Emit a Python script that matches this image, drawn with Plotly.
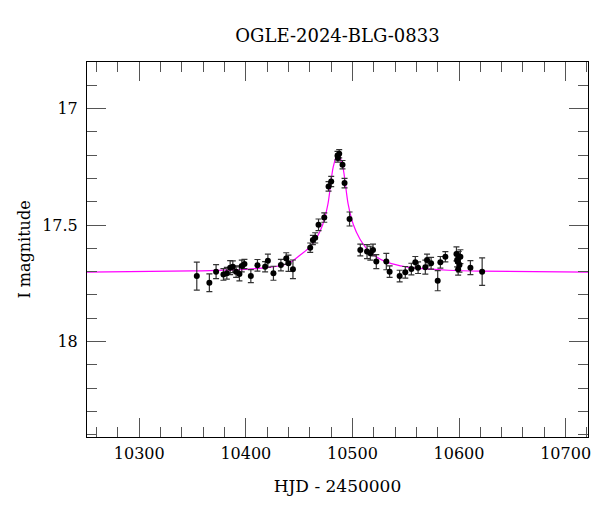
import plotly.graph_objects as go

# OGLE photometry
hjd = [10354.0, 10365.8, 10372.1, 10379.0, 10382.2, 10385.3, 10387.8, 10390.9, 10394.0, 10396.2,
       10398.7, 10404.7, 10410.9, 10418.1, 10420.7, 10425.9, 10432.9, 10437.9, 10440.0, 10444.2,
       10460.4, 10462.9, 10465.1, 10468.2, 10473.6, 10477.6, 10480.1, 10486.0, 10487.6, 10486.4,
       10490.7, 10492.6, 10497.3, 10507.4, 10513.7, 10516.8, 10519.3, 10522.4, 10531.8, 10534.9,
       10544.3, 10549.6, 10555.3, 10559.0, 10561.6, 10568.4, 10570.0, 10573.8, 10580.0, 10582.5,
       10587.2, 10597.6, 10599.7, 10601.3, 10598.8, 10600.4, 10599.2, 10598.2, 10610.7, 10621.7]
mag = [17.719, 17.748, 17.700, 17.712, 17.707, 17.683, 17.679, 17.700, 17.710, 17.676,
       17.667, 17.719, 17.673, 17.679, 17.653, 17.707, 17.672, 17.644, 17.664, 17.690,
       17.597, 17.564, 17.555, 17.499, 17.468, 17.334, 17.313, 17.202, 17.194, 17.212,
       17.241, 17.320, 17.474, 17.607, 17.614, 17.621, 17.607, 17.657, 17.657, 17.700,
       17.719, 17.703, 17.689, 17.660, 17.683, 17.681, 17.650, 17.664, 17.739, 17.660,
       17.636, 17.624, 17.638, 17.636, 17.657, 17.672, 17.690, 17.650, 17.683, 17.700]
err = [0.060, 0.038, 0.030, 0.025, 0.025, 0.030, 0.025, 0.025, 0.030, 0.025,
       0.020, 0.028, 0.025, 0.022, 0.028, 0.030, 0.025, 0.025, 0.035, 0.040,
       0.020, 0.020, 0.022, 0.025, 0.020, 0.020, 0.022, 0.018, 0.018, 0.018,
       0.018, 0.020, 0.030, 0.025, 0.030, 0.030, 0.025, 0.030, 0.035, 0.025,
       0.025, 0.025, 0.025, 0.025, 0.025, 0.030, 0.025, 0.025, 0.043, 0.025,
       0.022, 0.030, 0.025, 0.030, 0.035, 0.030, 0.025, 0.030, 0.030, 0.059]

# model light curve, sampled by eye from the magenta line
model_t = [10250, 10350, 10400, 10420, 10440, 10452, 10460, 10467, 10472, 10477, 10482, 10486.5,
           10491, 10496, 10501, 10507, 10514, 10522, 10530, 10545, 10560, 10590, 10620, 10722]
model_mag = [17.702, 17.697, 17.690, 17.683, 17.665, 17.625, 17.595, 17.550, 17.500, 17.410, 17.250, 17.190,
             17.250, 17.410, 17.500, 17.560, 17.605, 17.635, 17.655, 17.675, 17.685, 17.694, 17.698, 17.702]

font = "DejaVu Serif"

fig = go.Figure()
fig.add_trace(go.Scatter(
    x=model_t, y=model_mag, mode="lines",
    line=dict(color="#ff00ff", width=1.2, shape="spline", smoothing=0.8),
    hoverinfo="skip"
))
fig.add_trace(go.Scatter(
    x=hjd, y=mag, mode="markers",
    marker=dict(color="black", size=6),
    error_y=dict(type="data", array=err, color="#333333", thickness=1.2, width=3)
))

axis_common = dict(
    showline=True, linecolor="black", linewidth=1, mirror="ticks",
    ticks="inside", ticklen=19, tickcolor="#555555", tickwidth=1,
    showgrid=False, zeroline=False, automargin=False,
    tickfont=dict(family=font, size=16, color="black"),
)

fig.update_xaxes(
    range=[10251, 10721], dtick=100, tick0=10300, tickformat="d", ticklabelstandoff=2,
    minor=dict(dtick=20, ticks="inside", ticklen=10, tickcolor="#555555"),
    title=dict(text="HJD - 2450000", font=dict(family=font, size=17, color="black"), standoff=17),
    **axis_common
)
fig.update_yaxes(
    range=[18.41, 16.8], dtick=0.5, tick0=17, ticklabelstandoff=5,
    minor=dict(dtick=0.1, ticks="inside", ticklen=10, tickcolor="#555555"),
    title=dict(text="I magnitude", font=dict(family=font, size=16, color="black"), standoff=7),
    **axis_common
)

# page body has an 8px margin, so the figure sits 8px in from the window's top-left
fig.update_layout(
    width=592, height=504,
    showlegend=False,
    plot_bgcolor="white", paper_bgcolor="white",
    margin=dict(l=79, r=12, t=54, b=75, autoexpand=False),
    title=dict(text="OGLE-2024-BLG-0833", xref="paper", x=0.5, xanchor="center",
               y=0.946, yanchor="middle",
               font=dict(family=font, size=18, color="black"), automargin=False),
)

fig.write_html("out.html")
